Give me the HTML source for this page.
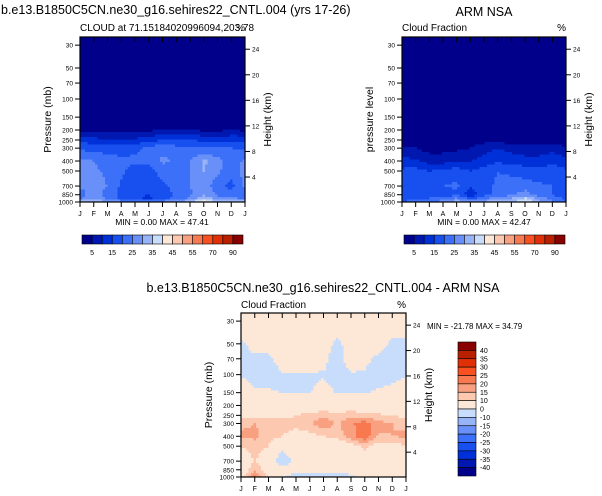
<!DOCTYPE html>
<html><head><meta charset="utf-8">
<style>
html,body{margin:0;padding:0;background:#fff;}
svg{display:block;font-family:"Liberation Sans",Arial,sans-serif;}
</style></head>
<body>
<svg id="fig" width="602" height="496" viewBox="0 0 602 496" xmlns="http://www.w3.org/2000/svg">
<text x="1" y="14" font-size="12.5">b.e13.B1850C5CN.ne30_g16.sehires22_CNTL.004 (yrs 17-26)</text>
<text x="80" y="31" font-size="10">CLOUD at 71.15184020996094,203.78</text>
<text x="245" y="31" font-size="10" text-anchor="end">%</text>
<text x="484" y="16" font-size="12.5" text-anchor="middle">ARM NSA</text>
<text x="402" y="31" font-size="10">Cloud Fraction</text>
<text x="566" y="31" font-size="10" text-anchor="end">%</text>
<text x="323" y="292" font-size="12.5" text-anchor="middle">b.e13.B1850C5CN.ne30_g16.sehires22_CNTL.004 - ARM NSA</text>
<text x="241" y="308" font-size="10">Cloud Fraction</text>
<text x="406" y="308" font-size="10" text-anchor="end">%</text>
<text x="162" y="225" font-size="8.5" text-anchor="middle">MIN =   0.00 MAX =  47.41</text>
<text x="484" y="225" font-size="8.5" text-anchor="middle">MIN =   0.00 MAX =  42.47</text>
<text x="427" y="329" font-size="8">MIN = -21.78 MAX =  34.79</text>
</svg>
<script>
const levels=[30,50,70,100,150,200,250,300,400,500,700,850,925,1000];
const pTicks=[30,50,70,100,150,200,250,300,400,500,700,850,1000];
const hTicks=[4,8,12,16,20,24];
const months=['J','F','M','A','M','J','J','A','S','O','N','D','J'];
const absThresh=[5,10,15,20,25,30,35,40,45,50,55,60,70,80,90];
const absLabels=[5,15,25,35,45,55,70,90];
const diffThresh=[-40,-35,-30,-25,-20,-15,-10,0,10,15,20,25,30,35,40];
const diffLabels=[40,35,30,25,20,15,10,0,-10,-15,-20,-25,-30,-35,-40];
const palette=['#00008a','#0018b0','#0030d8','#1850f0','#3c70f8','#6890f8','#98b4f8','#c8dcfc','#fde8d8','#fcc8b0','#f8a080','#f87850','#f85020','#e03008','#b82000','#880000'];
const modelData=[
[0,0,0,0,0,0,0,0,0,0,0,0,0],
[0,0,0,0,0,0,0,0,0,0,0,0,0],
[0,0,0,0,0,0,0,0,0,0,0,0,0],
[0,0,0,0,0,0,0,0,0,0,0,0,0],
[0,0,0,0,0,0,0,0,0,0,0,0,0],
[4,4,3,3,3,4,5,5,5,4,4,5,4],
[14,12,10,10,11,13,15,15,15,14,13,14,14],
[19,18,17,18,19,21,24,22,21,21,20,20,19],
[26,25,23,21,21,21,26,24,25,31,27,22,26],
[27,26,24,21,18,18,22,24,25,30,26,22,27],
[26,27,25,19,17,17,19,22,25,28,22,18,26],
[22,28,23,18,16,15,17,21,24,30,24,22,22],
[24,30,24,19,16,14,18,22,26,34,28,26,24],
[34,36,30,28,26,26,28,30,34,44,34,34,34]];
const obsData=[
[0,0,0,0,0,0,0,0,0,0,0,0,0],
[0,0,0,0,0,0,0,0,0,0,0,0,0],
[0,0,0,0,0,0,0,0,0,0,0,0,0],
[0,0,0,0,0,0,0,0,0,0,0,0,0],
[0,0,0,0,0,0,0,0,0,0,0,0,0],
[0,0,0,0,0,0,1,1,0,0,0,1,0],
[2,2,1,1,1,2,3,3,2,2,2,3,2],
[5,5,3,3,4,5,8,10,8,7,7,8,5],
[12,11,8,8,9,10,12,14,13,12,12,14,12],
[16,17,15,16,18,15,17,20,19,18,17,17,16],
[18,16,16,20,21,15,18,21,22,22,21,20,18],
[16,18,18,17,19,12,18,21,24,28,22,20,16],
[18,20,20,22,26,18,24,28,30,36,28,24,18],
[20,22,24,28,34,30,32,36,34,42,32,26,20]];
const diffData=[
[3,3,3,3,3,3,3,3,3,3,3,3,3],
[-1,2,2,2,2,2,2,-1,2,2,2,-1,-1],
[-2,-1,-1,2,2,2,1,-2,2,1,-1,-2,-2],
[-0.3,-2,-2,-0.3,-0.3,-0.3,-0.3,-1,-0.3,-0.5,-2,-2,-0.3],
[3,0.5,0.5,-0.2,-0.2,-0.2,1,-0.2,-0.2,-0.2,0.5,2,3],
[4,4,4,4,4,4,4,4,4,4,4,4,4],
[8,8,9,9,10,12,14,12,14,12,11,10,8],
[14,15,14,12,11,14,19,14,19,23,17,15,14],
[16,16,12,10,8,8,10,12,18,24,14,15,16],
[10,13,10,2,5,5,6,4,7,12,7,6,10],
[5,10,5,-5,3,4,7,3,5,5,5,5,5],
[5,14,6,3,2,3,4,3,3,3,3,6,5],
[6,16,8,3,1,1,1,1,1,2,3,8,6],
[8,22,10,2,-12,-6,-8,-10,-2,2,4,10,8]];

const NS='http://www.w3.org/2000/svg';
const fig=document.getElementById('fig');
const P_TOP=25,P_BOT=1000;
function mk(tag,attrs,parent){const e=document.createElementNS(NS,tag);for(const k in attrs)e.setAttribute(k,attrs[k]);(parent||fig).appendChild(e);return e;}
function yOfP(p,oy,h){return oy+(Math.log10(p)-Math.log10(P_TOP))/(Math.log10(P_BOT)-Math.log10(P_TOP))*h;}
function xOfM(i,ox,w){return ox+i/12*w;}
function pOfZ(z){return 1013*Math.exp(-z/7);}
function colorIdx(v,th){let k=0;while(k<th.length&&v>=th[k])k++;return k;}
function sample(data,mi,lp){
  const L=levels.map(Math.log10);
  let r=0,t;
  if(lp<=L[0]){r=0;t=0;}
  else if(lp>=L[L.length-1]){r=L.length-2;t=1;}
  else{while(L[r+1]<lp)r++;t=(lp-L[r])/(L[r+1]-L[r]);}
  const c=Math.min(11,Math.floor(mi));const u=mi-c;
  const a=data[r][c]*(1-u)+data[r][c+1]*u;
  const b=data[r+1][c]*(1-u)+data[r+1][c+1]*u;
  return a*(1-t)+b*t;
}
function panel(name,ox,oy,w,h,data,th,leftLabel){
  const g=mk('g',{});
  
  
  const cells=mk('g',{'shape-rendering':'crispEdges'},g);
  
  
  const s=2.5;
  for(let py=oy;py<oy+h;py+=s){
    const ch=Math.min(s,oy+h-py);
    const yc=py+ch/2;
    const lp=Math.log10(P_TOP)+(yc-oy)/h*(Math.log10(P_BOT)-Math.log10(P_TOP));
    for(let px=ox;px<ox+w;px+=s){
      const cw=Math.min(s,ox+w-px);
      const mi=(px+cw/2-ox)/w*12;
      const v=sample(data,mi,lp);
      const r=mk('rect',{x:px,y:py,width:cw+0.3,height:ch+0.3,fill:palette[colorIdx(v,th)]},cells);
      
      
    }
  }
  const fr=mk('rect',{x:ox,y:oy,width:w,height:h,fill:'none',stroke:'#000','stroke-width':1.2},g);
  
  
  months.forEach((m,i)=>{
    const x=xOfM(i,ox,w);
    mk('line',{x1:x,y1:oy+h,x2:x,y2:oy+h+5,stroke:'#000','stroke-width':1},g);
    mk('line',{x1:x,y1:oy,x2:x,y2:oy+5,stroke:'#000','stroke-width':1},g);
    const t=mk('text',{x:x,y:oy+h+14,'font-size':7,'text-anchor':'middle'},g);
    t.textContent=m;
    
    
  });
  pTicks.forEach(p=>{
    const y=yOfP(p,oy,h);
    mk('line',{x1:ox-5,y1:y,x2:ox,y2:y,stroke:'#000','stroke-width':1},g);
    const t=mk('text',{x:ox-7,y:y+2.5,'font-size':6.5,'text-anchor':'end'},g);
    t.textContent=p;
    
    
  });
  hTicks.forEach(z=>{
    const y=yOfP(pOfZ(z),oy,h);
    mk('line',{x1:ox+w,y1:y,x2:ox+w+5,y2:y,stroke:'#000','stroke-width':1},g);
    const t=mk('text',{x:ox+w+7,y:y+2.5,'font-size':6.5},g);
    t.textContent=z;
    
    
  });
  const yl=mk('text',{x:0,y:0,'font-size':10.5,'text-anchor':'middle',transform:`translate(${ox-29},${oy+h/2}) rotate(-90)`},g);
  yl.textContent=leftLabel;
  
  
  const yr=mk('text',{x:0,y:0,'font-size':10.5,'text-anchor':'middle',transform:`translate(${ox+w+26},${oy+h/2}) rotate(-90)`},g);
  yr.textContent='Height (km)';
  
  
}
function hbar(name,x,y,w,h){
  const g=mk('g',{});
  
  
  const bw=w/palette.length;
  palette.forEach((c,i)=>{
    const r=mk('rect',{x:x+i*bw,y:y,width:bw,height:h,fill:c,stroke:'#000','stroke-width':0.6},g);
    
    
  });
  absThresh.forEach((v,i)=>{
    if(absLabels.indexOf(v)<0)return;
    const t=mk('text',{x:x+(i+1)*bw,y:y+h+11,'font-size':7,'text-anchor':'middle'},g);
    t.textContent=v;
    
    
  });
}
function vbar(name,x,y,w,h){
  const g=mk('g',{});
  
  
  const bh=h/palette.length;
  for(let i=0;i<palette.length;i++){
    const r=mk('rect',{x:x,y:y+i*bh,width:w,height:bh,fill:palette[palette.length-1-i],stroke:'#000','stroke-width':0.6},g);
    
    
  }
  diffLabels.forEach((v,i)=>{
    const t=mk('text',{x:x+w+4,y:y+(i+1)*bh+2.5,'font-size':7},g);
    t.textContent=v;
    
    
  });
}
panel('model',80,37,165,165,modelData,absThresh,'Pressure (mb)');
panel('obs',402,37,164,165,obsData,absThresh,'pressure level');
panel('diff',241,313,165,164,diffData,diffThresh,'Pressure (mb)');
hbar('model-colorbar',82,235,161,9);
hbar('obs-colorbar',404,235,161,9);
vbar('diff-colorbar',458,342,18,134);
</script>
</body></html>
